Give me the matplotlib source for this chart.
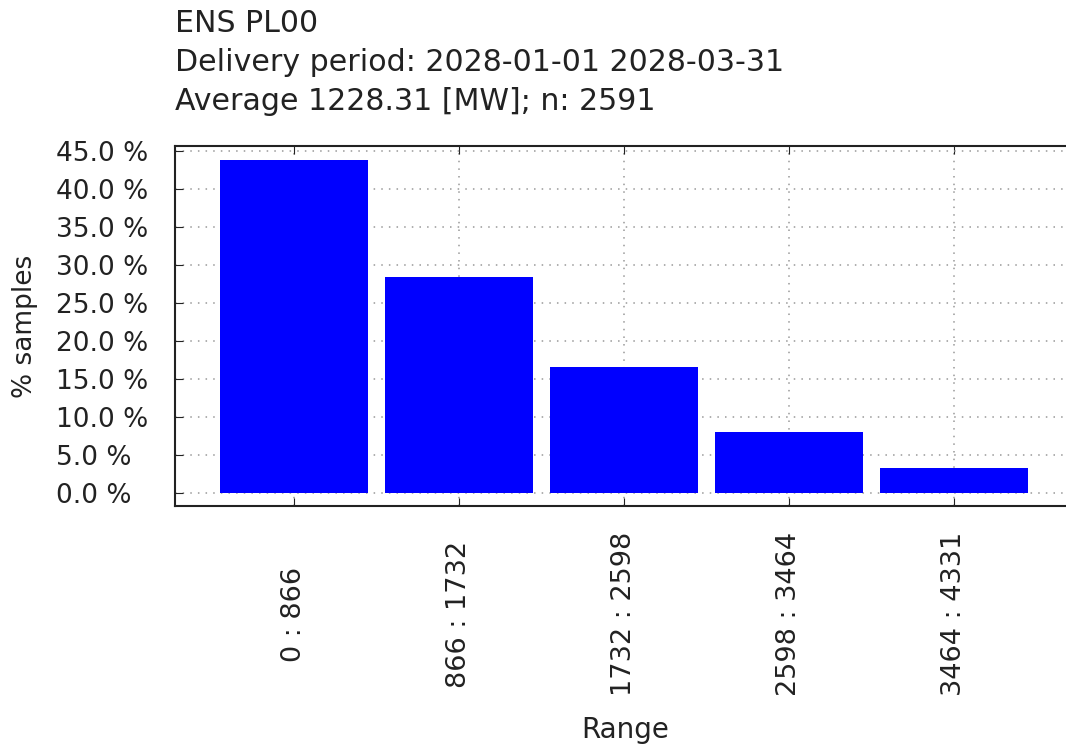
import numpy as np
import matplotlib
matplotlib.use('Agg')
import matplotlib.pyplot as plt

# histogram of samples per range bucket
ranges = ['0 : 866', '866 : 1732', '1732 : 2598', '2598 : 3464', '3464 : 4331']
share = [43.8, 28.4, 16.6, 8.0, 3.3]
yticks = [0, 5, 10, 15, 20, 25, 30, 35, 40, 45]
title_lines = ['ENS PL00',
               'Delivery period: 2028-01-01 2028-03-31',
               'Average 1228.31 [MW]; n: 2591']

plt.rcParams['font.family'] = 'DejaVu Sans'
W, H = 1066, 744
fig = plt.figure(figsize=(W / 100, H / 100), dpi=100)

# axes box runs off the right edge like the original
ax = fig.add_axes([175 / W, (H - 506) / H, 931 / W, 360 / H])

x = np.arange(len(ranges))
ax.bar(x, share, width=0.9, color='#0000ff', zorder=3)

ax.set_xlim(-0.72, 4.92)
ax.set_ylim(-1.71, 45.66)
ax.set_yticks(yticks)
ax.set_yticklabels(['%.1f %%' % v for v in yticks], ha='left')
ax.set_xticks(x)
ax.set_xticklabels(ranges, rotation=90, va='center')

ax.grid(True, linestyle=(0, (1, 4)), color='#999999', linewidth=1.1, zorder=0)
ax.tick_params(axis='y', direction='in', length=6, pad=86, labelsize=19, colors='#222222')
ax.tick_params(axis='x', direction='in', length=6, pad=78, labelsize=19.5, colors='#222222',
               top=True)
for s in ax.spines.values():
    s.set_linewidth(1.5)
    s.set_color('#222222')

for i, line in enumerate(title_lines):
    fig.text(175 / W, 1 - (9 + 39 * i) / H, line, fontsize=21.6, va='top', ha='left',
             color='#222222')

fig.text(25 / W, 1 - 326 / H, '% samples', rotation=90, fontsize=19, va='center',
         ha='center', color='#222222')
fig.text(625 / W, 1 - 730 / H, 'Range', fontsize=20, va='center', ha='center',
         color='#222222')

fig.savefig('out.png', dpi=100)
